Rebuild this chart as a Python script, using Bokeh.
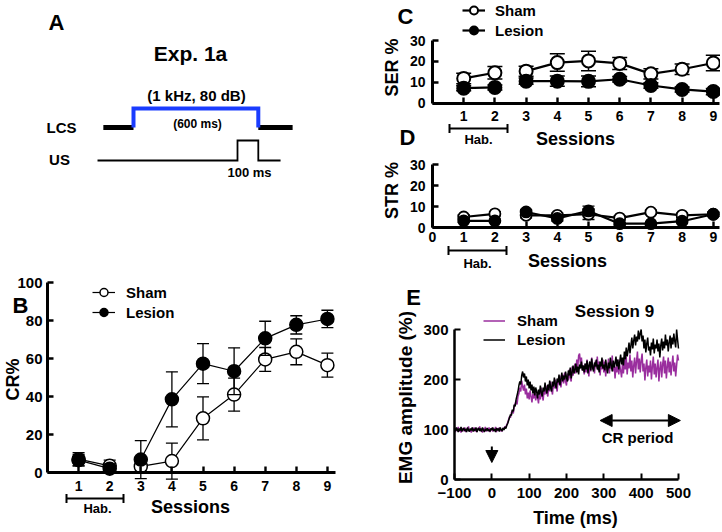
import math
from bokeh.plotting import figure
from bokeh.models import (Range1d, Label, Legend, LegendItem, FixedTicker, Arrow,
                          TeeHead, NormalHead)
from bokeh.layouts import row, column
from bokeh.embed import file_html
from bokeh.resources import INLINE

FONT = "Liberation Sans"
BLUE = "#1a3cff"
PURPLE = "#9a2e9e"

# ---------------- data ----------------
sessions = [1, 2, 3, 4, 5, 6, 7, 8, 9]

cr_sham = [7, 3.5, 3.2, 6, 28.5, 41, 59.5, 63.5, 56.5]
cr_sham_err = [3.5, 3, 2, 9.5, 11.3, 8.7, 6.3, 6.8, 6.3]
cr_lesion = [6.5, 2, 6.8, 38.5, 57.3, 53.3, 70.6, 77.7, 80.8]
cr_lesion_err = [3, 2.5, 10, 14.5, 10.5, 12.3, 9, 4.8, 4.6]

ser_sham = [11.8, 14.5, 15.3, 19.4, 20.2, 19.0, 14.0, 16.2, 19.2]
ser_sham_err = [2.5, 3, 2.4, 4.2, 4.7, 2.9, 2.5, 2.5, 3.7]
ser_lesion = [7.1, 7.5, 10.5, 10.5, 10.4, 11.4, 8.4, 6.5, 5.5]
ser_lesion_err = [1.2, 1.2, 1.5, 2.5, 2.6, 1.3, 1.3, 1.2, 1.5]

str_sham = [5, 6.5, 5.8, 5.8, 6.3, 4.5, 7.3, 5.8, 6.3]
str_sham_err = [1, 1, 1.2, 1, 2.5, 1, 1, 1, 1]
str_lesion = [3.2, 3.2, 7.4, 4.3, 7.9, 1.8, 1.8, 3, 6.3]
str_lesion_err = [0.8, 0.8, 1.2, 1.2, 2.3, 0.6, 0.6, 0.8, 1]

cr_ticks = [0, 20, 40, 60, 80, 100]
rate_ticks = [0, 10, 20, 30]

# EMG traces, one sample every 2.5 ms from -100 ms to 500 ms
emg_start, emg_step = -100, 2.5
emg_sham = [
    100, 95, 103, 98, 105, 96, 101, 94, 103, 99, 97, 104, 95, 102, 98, 106, 96, 100, 94, 103,
    98, 104, 96, 101, 95, 103, 99, 106, 97, 100, 94, 102, 98, 105, 96, 101, 97, 104, 95, 100,
    103, 96, 101, 98, 105, 95, 102, 99, 104, 97, 100, 96, 103, 101, 106, 104, 110, 114, 120, 126,
    124, 134, 138, 132, 146, 152, 158, 150, 166, 172, 184, 176, 198, 186, 178, 190, 170, 182, 162, 174,
    160, 178, 166, 154, 172, 162, 180, 158, 170, 164, 152, 176, 160, 184, 168, 158, 180, 170, 188, 174,
    166, 190, 176, 196, 180, 170, 194, 182, 200, 186, 176, 202, 190, 208, 184, 198, 210, 192, 214, 196,
    188, 212, 198, 220, 204, 196, 226, 208, 218, 232, 212, 240, 222, 248, 252, 230, 244, 218, 228, 210,
    232, 214, 240, 222, 206, 234, 216, 244, 220, 230, 212, 238, 224, 246, 218, 236, 208, 232, 220, 240,
    214, 236, 206, 228, 218, 242, 212, 232, 222, 248, 216, 236, 202, 226, 214, 240, 210, 230, 218, 204,
    232, 212, 240, 220, 246, 210, 234, 222, 250, 216, 238, 204, 228, 244, 212, 236, 256, 220, 242, 214,
    238, 252, 216, 232, 198, 224, 240, 206, 228, 214, 238, 200, 226, 246, 210, 232, 204, 224, 240, 196,
    222, 236, 204, 230, 246, 212, 238, 202, 226, 244, 214, 236, 208, 230, 248, 216, 234, 206, 228, 250,
    238]
emg_lesion = [
    102, 97, 104, 99, 95, 101, 98, 105, 96, 100, 103, 97, 101, 95, 104, 99, 96, 102, 98, 104,
    96, 101, 98, 104, 95, 100, 103, 97, 102, 96, 104, 99, 95, 101, 98, 103, 97, 100, 96, 102,
    99, 104, 97, 101, 95, 103, 98, 102, 96, 104, 100, 97, 103, 99, 105, 102, 108, 112, 118, 124,
    130, 128, 140, 136, 150, 146, 160, 168, 176, 188, 196, 190, 208, 216, 204, 212, 196, 206, 188, 200,
    182, 196, 178, 190, 172, 186, 168, 184, 176, 162, 180, 170, 188, 174, 166, 184, 176, 194, 180, 172,
    190, 178, 198, 184, 176, 196, 186, 204, 190, 182, 202, 194, 210, 188, 200, 214, 196, 208, 200, 216,
    204, 196, 218, 208, 224, 202, 214, 228, 212, 220, 232, 214, 226, 210, 230, 222, 236, 218, 228, 214,
    232, 220, 238, 212, 228, 236, 218, 242, 224, 216, 234, 226, 240, 220, 230, 214, 236, 226, 244, 222,
    230, 218, 240, 226, 212, 234, 222, 244, 228, 216, 238, 224, 232, 246, 226, 240, 220, 236, 250, 230,
    244, 228, 256, 240, 264, 246, 258, 274, 252, 268, 284, 262, 278, 290, 268, 286, 276, 298, 280, 292,
    300, 276, 288, 262, 280, 254, 272, 284, 258, 266, 248, 274, 260, 282, 252, 270, 262, 280, 256, 272,
    244, 268, 282, 258, 276, 262, 290, 268, 280, 256, 274, 288, 262, 284, 270, 292, 276, 264, 300, 280,
    262]
emg_xticks = [-100, 0, 100, 200, 300, 400, 500]
emg_yticks = [0, 100, 200, 300]
cr_period = [290, 505]

# stimulus schematic (ms relative to tone onset, level 0/1)
lcs_pre_t = [-145, 0]
lcs_tone_t = [0, 0, 600, 600]
lcs_tone_lvl = [0, 1, 1, 0]
lcs_post_t = [600, 765]
us_t = [-173, 500, 500, 600, 600, 707]
us_lvl = [0, 0, 1, 1, 0, 0]


# ---------------- helpers ----------------
class Panel:
    """A figure whose frame fills the whole canvas; box is in page pixels."""

    def __init__(self, box, xanchor, ppx, yanchor, ppy, axes=True):
        x0, y0, x1, y1 = box
        xpx, xv = xanchor
        ypx, yv = yanchor
        self.box = box
        xr = (xv + (x0 - xpx) / ppx, xv + (x1 - xpx) / ppx)
        yr = (yv - (y1 - ypx) / ppy, yv + (ypx - y0) / ppy)
        kw = {} if axes else dict(x_axis_type=None, y_axis_type=None)
        p = figure(width=x1 - x0, height=y1 - y0,
                   x_range=Range1d(*xr), y_range=Range1d(*yr),
                   output_backend="svg", toolbar_location=None,
                   min_border_left=0, min_border_right=0,
                   min_border_top=0, min_border_bottom=0, **kw)
        p.grid.visible = False
        p.outline_line_color = None
        self.p = p

    def axes(self, xticks, yticks, xb, yb, xloc, yloc, xfs, yfs, xstand, ystand, lw):
        p = self.p
        xa, ya = p.xaxis[0], p.yaxis[0]
        xa.fixed_location = xloc
        ya.fixed_location = yloc
        xa.ticker = FixedTicker(ticks=xticks)
        ya.ticker = FixedTicker(ticks=yticks)
        xa.bounds = xb
        ya.bounds = yb
        xa.major_label_text_font_size = f"{xfs}px"
        ya.major_label_text_font_size = f"{yfs}px"
        xa.major_label_standoff = xstand
        ya.major_label_standoff = ystand
        for ax in (xa, ya):
            ax.axis_line_width = lw
            ax.axis_line_color = "black"
            ax.major_tick_line_width = lw * 0.8
            ax.major_tick_line_color = "black"
            ax.major_tick_in = 6
            ax.major_tick_out = 0
            ax.minor_tick_line_color = None
            ax.major_label_text_font = FONT
            ax.major_label_text_font_style = "bold"
            ax.major_label_text_color = "black"

    def txt(self, ix, iy, text, size, angle=0.0, style="bold", align="center"):
        x0, y0, x1, y1 = self.box
        self.p.add_layout(Label(x=ix - x0, y=y1 - iy, x_units="screen", y_units="screen",
                                text=text, text_font=FONT, text_font_size=f"{size}px",
                                text_font_style=style, text_align=align,
                                text_baseline="middle", angle=angle, text_color="black"))

    def bracket(self, ix0, ix1, iy):
        x0, y0, x1, y1 = self.box
        self.p.add_layout(Arrow(x_start=ix0 - x0, y_start=y1 - iy, x_end=ix1 - x0, y_end=y1 - iy,
                                start_units="screen", end_units="screen",
                                start=TeeHead(size=9, line_width=2),
                                end=TeeHead(size=9, line_width=2),
                                line_width=2, line_color="black"))

    def legend(self, items, ix, iy_bottom, gw, gh, standoff, fs=15):
        x0, y0, x1, y1 = self.box
        lg = Legend(items=[LegendItem(label=l, renderers=r) for l, r in items],
                    location=(ix - x0, y1 - iy_bottom), orientation="vertical",
                    background_fill_alpha=0, border_line_alpha=0,
                    padding=0, margin=0, spacing=0,
                    glyph_width=gw, glyph_height=gh, label_height=gh,
                    label_standoff=standoff, label_text_font=FONT,
                    label_text_font_style="bold", label_text_font_size=f"{fs}px",
                    label_text_color="black")
        self.p.add_layout(lg)


def series(p, x, y, err, fill, size, lw_line, lw_err, cap, lw_mk):
    lo = [a - b for a, b in zip(y, err)]
    hi = [a + b for a, b in zip(y, err)]
    p.segment(x0=x, y0=lo, x1=x, y1=hi, line_color="black", line_width=lw_err)
    p.scatter(x=x, y=hi, marker="dash", size=cap, line_color="black", line_width=lw_err)
    p.scatter(x=x, y=lo, marker="dash", size=cap, line_color="black", line_width=lw_err)
    p.line(x[:2], y[:2], line_color="black", line_width=lw_line)
    ln = p.line(x[2:], y[2:], line_color="black", line_width=lw_line)
    sc = p.scatter(x=x, y=y, marker="circle", size=size, fill_color=fill,
                   line_color="black", line_width=lw_mk)
    return [ln, sc]


# ---------------- panel A ----------------
A = Panel((0, 0, 356, 258), (133, 0), 0.208, (258, 0), 1.0, axes=False)
pA = A.p
lcs_base, lcs_amp = 131, 19
us_base, us_amp = 98, 20
pA.line(lcs_pre_t, [lcs_base] * 2, line_color="black", line_width=5)
pA.line(lcs_post_t, [lcs_base] * 2, line_color="black", line_width=5)
pA.line(lcs_tone_t, [lcs_base + lcs_amp * v for v in lcs_tone_lvl],
        line_color=BLUE, line_width=4, line_join="miter")
pA.line(us_t, [us_base + us_amp * v for v in us_lvl],
        line_color="black", line_width=1.8, line_join="miter")
A.txt(56, 22, "A", 22)
A.txt(190, 53, "Exp. 1a", 21)
A.txt(196, 95, "(1 kHz, 80 dB)", 15)
A.txt(197, 123, "(600 ms)", 12)
A.txt(61, 127, "LCS", 15)
A.txt(59, 159, "US", 15)
A.txt(249, 172, "100 ms", 13)

# ---------------- panel B ----------------
B = Panel((0, 258, 356, 530), (47, 0), 31.1, (472, 0), 1.9)
pB = B.p
B.axes(sessions, cr_ticks, (0, 9.25), (0, 100), 0, 0, 14, 15, 8, 5, 3)
rs = series(pB, sessions, cr_sham, cr_sham_err, "white", 13, 1.2, 1.3, 12, 1.5)
rl = series(pB, sessions, cr_lesion, cr_lesion_err, "black", 13, 1.2, 1.3, 12, 1.5)
B.legend([("Sham", rs), ("Lesion", rl)], 92, 322, 23, 20, 11)
B.txt(20, 305, "B", 22)
B.txt(12, 379, "CR%", 18, angle=math.pi / 2)
B.txt(190, 506, "Sessions", 18)
B.txt(97, 508, "Hab.", 13)
B.bracket(66, 123, 498)

# ---------------- panel C ----------------
C = Panel((356, 0, 720, 150), (432, 0), 31.2, (102.5, 0), 62.5 / 30)
pC = C.p
C.axes(sessions, rate_ticks, (0, 9.2), (0, 30), 0, 0, 14, 14, 8, 7, 3)
cs = series(pC, sessions, ser_sham, ser_sham_err, "white", 13, 2.2, 1.5, 15, 2)
cl = series(pC, sessions, ser_lesion, ser_lesion_err, "black", 13, 2.2, 1.5, 15, 2)
C.legend([("Sham", cs), ("Lesion", cl)], 462, 40, 23, 20, 10)
C.txt(405, 16, "C", 22)
C.txt(391, 67, "SER %", 18, angle=math.pi / 2)
C.txt(575, 138, "Sessions", 18)
C.txt(478, 139, "Hab.", 13)
C.txt(407, 137, "D", 22)
C.bracket(449, 507, 128)

# ---------------- panel D ----------------
D = Panel((356, 150, 720, 278), (432, 0), 31.2, (227, 0), 2.1)
pD = D.p
D.axes([0] + sessions, rate_ticks, (0, 9.2), (0, 30), 0, 0, 14, 14, 4, 7, 3)
series(pD, sessions, str_sham, str_sham_err, "white", 11, 2.2, 1.3, 12, 1.8)
series(pD, sessions, str_lesion, str_lesion_err, "black", 11, 2.2, 1.3, 12, 1.8)
D.txt(391, 190, "STR %", 18, angle=math.pi / 2)
D.txt(567, 260, "Sessions", 18)
D.txt(477, 263, "Hab.", 13)
D.bracket(448, 506, 250)

# ---------------- panel E ----------------
E = Panel((356, 278, 720, 530), (454, -100), 224 / 600, (479, 0), 0.5)
pE = E.p
E.axes(emg_xticks, emg_yticks, (-100, 500), (0, 300), 0, -100, 15, 15, 8, 6, 2.5)
t_sham = [emg_start + emg_step * i for i in range(len(emg_sham))]
t_lesion = [emg_start + emg_step * i for i in range(len(emg_lesion))]
es = pE.line(t_sham, emg_sham, line_color=PURPLE, line_width=1.5)
el = pE.line(t_lesion, emg_lesion, line_color="black", line_width=1.5)
E.legend([("Sham", [es]), ("Lesion", [el])], 483, 348.5, 22, 19, 12)
pE.add_layout(Arrow(x_start=cr_period[0], y_start=118, x_end=cr_period[1], y_end=118,
                    start=NormalHead(size=12, fill_color="black", line_color="black"),
                    end=NormalHead(size=12, fill_color="black", line_color="black"),
                    line_width=2, line_color="black"))
pE.add_layout(Arrow(x_start=0, y_start=66, x_end=0, y_end=34,
                    end=NormalHead(size=12, fill_color="black", line_color="black"),
                    line_width=2, line_color="black"))
E.txt(413, 297, "E", 22)
E.txt(405, 397, "EMG amplitude (%)", 19, angle=math.pi / 2)
E.txt(575, 517, "Time (ms)", 18)
E.txt(614, 311, "Session 9", 17)
E.txt(637, 437, "CR period", 15)

layout = row(column(pA, pB, spacing=0), column(pC, pD, pE, spacing=0), spacing=0)
open("out.html", "w").write(file_html(layout, INLINE))
